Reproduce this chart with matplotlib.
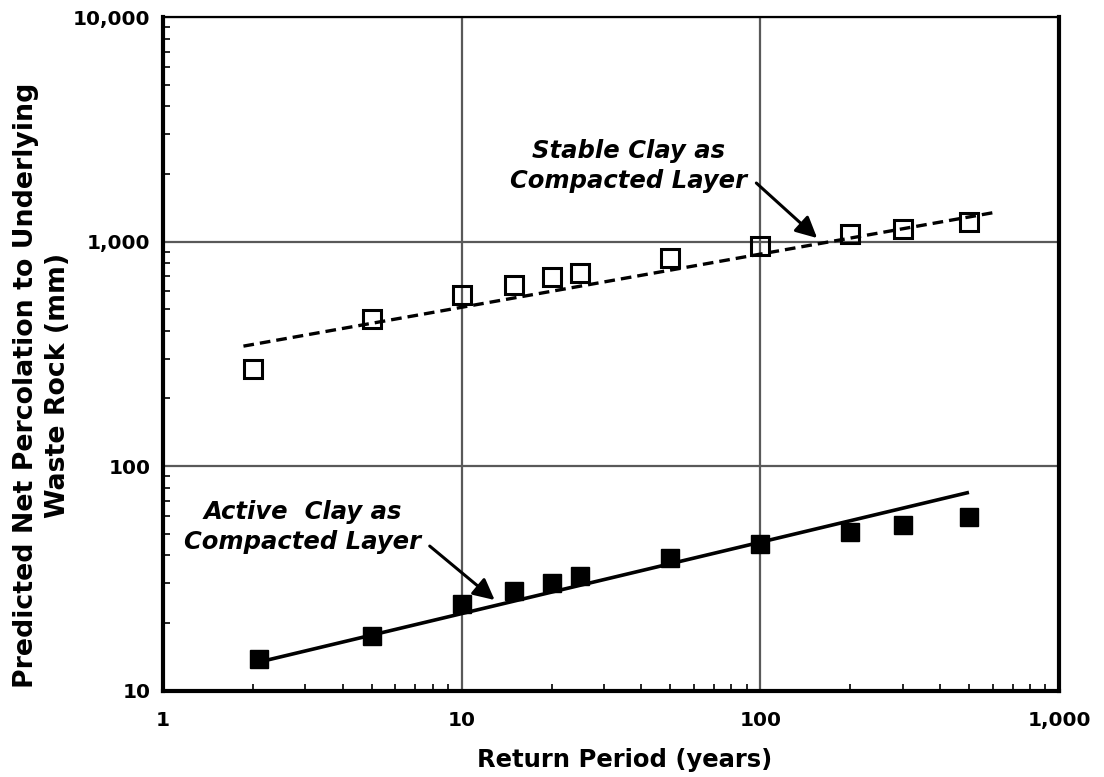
import matplotlib
matplotlib.use("Agg")
import matplotlib.pyplot as plt
from matplotlib.ticker import FixedLocator, FixedFormatter, LogLocator, NullFormatter

plt.rcParams['font.family'] = 'DejaVu Sans'
plt.rcParams['font.weight'] = 'bold'
plt.rcParams['axes.labelweight'] = 'bold'

# return periods (years)
stable_x = [2, 5, 10, 15, 20, 25, 50, 100, 200, 300, 500]
stable_y = [270, 452, 578, 640, 692, 726, 841, 957, 1076, 1137, 1218]

active_x = [2.1, 5, 10, 15, 20, 25, 50, 100, 200, 300, 500]
active_y = [13.8, 17.5, 24.2, 27.7, 30.0, 32.4, 39.0, 44.8, 50.9, 54.6, 59.4]

# fitted trend lines (end points)
stable_fit_x = [1.86, 611]
stable_fit_y = [342, 1349]
active_fit_x = [2.1, 493]
active_fit_y = [13.4, 76.0]

x_ticks = [1, 10, 100, 1000]
x_labels = ["1", "10", "100", "1,000"]
y_ticks = [10, 100, 1000, 10000]
y_labels = ["10", "100", "1,000", "10,000"]

fig = plt.figure(figsize=(11.04, 7.77), dpi=100)
ax = fig.add_axes([0.1476, 0.1113, 0.8116, 0.8668])

ax.set_xscale('log')
ax.set_yscale('log')
ax.set_xlim(1, 1000)
ax.set_ylim(10, 10000)

ax.plot(stable_fit_x, stable_fit_y, color='k', lw=2.4, linestyle=(0, (3.2, 1.8)), zorder=3)
ax.plot(stable_x, stable_y, 's', ms=13, mfc='none', mec='k', mew=2.2, zorder=4)

ax.plot(active_fit_x, active_fit_y, color='k', lw=2.6, zorder=3)
ax.plot(active_x, active_y, 's', ms=13, mfc='k', mec='k', zorder=4)

ax.xaxis.set_major_locator(FixedLocator(x_ticks))
ax.xaxis.set_major_formatter(FixedFormatter(x_labels))
ax.yaxis.set_major_locator(FixedLocator(y_ticks))
ax.yaxis.set_major_formatter(FixedFormatter(y_labels))
ax.xaxis.set_minor_locator(LogLocator(base=10, subs=range(2, 10)))
ax.yaxis.set_minor_locator(LogLocator(base=10, subs=range(2, 10)))
ax.xaxis.set_minor_formatter(NullFormatter())
ax.yaxis.set_minor_formatter(NullFormatter())

ax.tick_params(which='both', direction='in', top=False, right=False)
ax.tick_params(which='major', length=0, labelsize=14.5)
ax.tick_params(which='minor', length=5, width=1.2)
ax.tick_params(axis='x', which='major', pad=15)
ax.tick_params(axis='y', which='major', pad=9)

ax.grid(which='major', color='0.35', lw=1.6)
ax.set_axisbelow(True)

for side in ['left', 'bottom', 'right']:
    ax.spines[side].set_linewidth(3)
ax.spines['top'].set_linewidth(1.6)

ax.set_xlabel("Return Period (years)", fontsize=17.5, fontweight='bold')
ax.xaxis.set_label_coords(0.5156, -0.085)
fig.text(0.038, 0.504, "Predicted Net Percolation to Underlying\nWaste Rock (mm)",
         rotation=90, ha='center', va='center', fontsize=19.3, fontweight='bold',
         linespacing=1.3)

ax.text(36.2, 2168, "Stable Clay as\nCompacted Layer", ha='center', va='center',
        fontsize=17.5, style='italic', fontweight='heavy', linespacing=1.3)
ax.annotate("", xy=(155, 1036), xytext=(97, 1822),
            arrowprops=dict(arrowstyle='-|>', lw=2.2, color='k', mutation_scale=32,
                            shrinkA=0, shrinkB=0))

ax.text(2.94, 53.5, "Active  Clay as\nCompacted Layer", ha='center', va='center',
        fontsize=17.5, style='italic', fontweight='heavy', linespacing=1.3)
ax.annotate("", xy=(12.9, 25.3), xytext=(7.82, 44.0),
            arrowprops=dict(arrowstyle='-|>', lw=2.2, color='k', mutation_scale=32,
                            shrinkA=0, shrinkB=0))

fig.savefig("out.png", dpi=100)
